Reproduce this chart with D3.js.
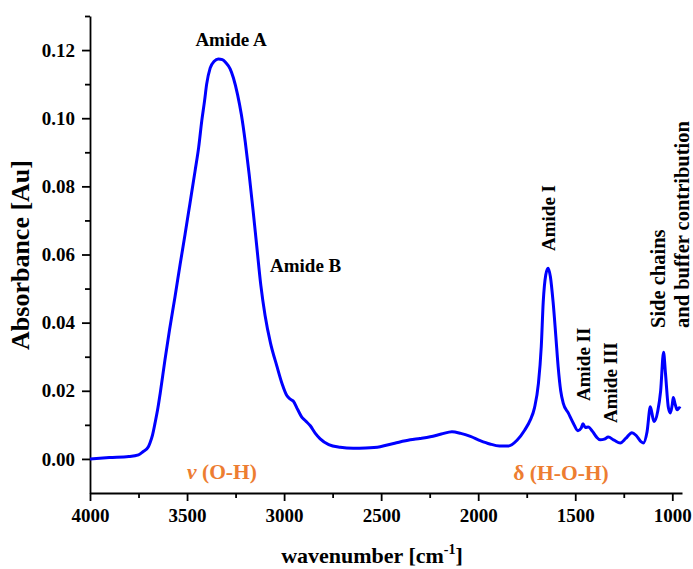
<!DOCTYPE html>
<html>
<head>
<meta charset="utf-8">
<script src="https://cdn.jsdelivr.net/npm/d3@7"></script>
<style>
  html, body { margin: 0; padding: 0; background: #fff; }
  svg { display: block; }
  text { font-family: "Liberation Serif", "Times New Roman", serif; font-weight: bold; }
</style>
</head>
<body>
<svg id="chart" width="693" height="569"></svg>
<script>
// FTIR absorbance spectrum (wavenumber in cm^-1, absorbance in Au)
const wavenumber = [
  4000, 3900, 3800, 3750, 3727, 3700, 3691, 3678, 3665, 3650, 3639, 3614, 3590, 3562,
  3536, 3510, 3485, 3459, 3440, 3424, 3410, 3399, 3381, 3360, 3339, 3318, 3300, 3278,
  3261, 3240, 3220, 3200, 3180, 3160, 3141, 3120, 3098, 3070, 3038, 3010, 2986, 2970, 2953,
  2930, 2909, 2890, 2866, 2840, 2814, 2770, 2711, 2644, 2580, 2505, 2430, 2350, 2300,
  2247, 2190, 2135, 2090, 2040, 1990, 1940, 1890, 1845, 1800, 1760, 1732, 1710, 1690,
  1675, 1665, 1652, 1640, 1628, 1614, 1600, 1588, 1575, 1562, 1536, 1510, 1486, 1470,
  1460, 1448, 1433, 1410, 1390, 1371, 1350, 1330, 1300, 1268, 1240, 1208, 1185, 1160,
  1149, 1130, 1113, 1100, 1093, 1075, 1060, 1045, 1035, 1020, 1010, 1000, 995, 985,
  975, 965, 958
];
const absorbance = [
  0.0000, 0.0004, 0.0007, 0.0012, 0.0021, 0.0035, 0.0047, 0.0070, 0.0105, 0.0150, 0.0190, 0.0290, 0.0380, 0.0476,
  0.0570, 0.0660, 0.0750, 0.0844, 0.0915, 0.0993, 0.1050, 0.1100, 0.1147, 0.1167, 0.1174, 0.1172, 0.1163, 0.1145,
  0.1118, 0.1070, 0.1010, 0.0930, 0.0835, 0.0730, 0.0625, 0.0510, 0.0421, 0.0340, 0.0274, 0.0220, 0.0186, 0.0176, 0.0170,
  0.0145, 0.0123, 0.0112, 0.0098, 0.0076, 0.0059, 0.0042, 0.0034, 0.0031, 0.0032, 0.0036, 0.0046, 0.0056, 0.0060,
  0.0065, 0.0073, 0.0080, 0.0075, 0.0066, 0.0054, 0.0044, 0.0038, 0.0038, 0.0055, 0.0085, 0.0114, 0.0150, 0.0220,
  0.0330, 0.0460, 0.0540, 0.0560, 0.0535, 0.0460, 0.0360, 0.0270, 0.0200, 0.0164, 0.0135, 0.0105, 0.0083, 0.0090,
  0.0103, 0.0092, 0.0094, 0.0080, 0.0064, 0.0056, 0.0058, 0.0064, 0.0055, 0.0047, 0.0060, 0.0077, 0.0068, 0.0050,
  0.0047, 0.0080, 0.0153, 0.0120, 0.0110, 0.0140, 0.0200, 0.0313, 0.0250, 0.0150, 0.0135, 0.0160, 0.0180, 0.0160,
  0.0144, 0.0150, 0.0148
];

// Axis ticks
const xMajorTicks = [4000, 3500, 3000, 2500, 2000, 1500, 1000];
const xMinorTicks = [3750, 3250, 2750, 2250, 1750, 1250];
const yMajorTicks = [0.00, 0.02, 0.04, 0.06, 0.08, 0.10, 0.12];
const yMinorTicks = [0.01, 0.03, 0.05, 0.07, 0.09, 0.11, 0.13];

// Band annotations
const bandLabels = ["Amide A", "Amide B"];
const rotatedLabels = ["Amide I", "Amide II", "Amide III", "Side chains", "and buffer contribution"];
const modeLabels = ["(O-H)", "δ (H-O-H)"];

const svg = d3.select("#chart");
const plotLeft = 90, plotRight = 682, plotTop = 16, plotBottom = 493;

const x = d3.scaleLinear().domain([4000, 950]).range([plotLeft, plotRight]);
const y = d3.scaleLinear().domain([-0.01, 0.13]).range([plotBottom, plotTop]);

const axisColor = "#000";

// X axis
const gx = svg.append("g").attr("transform", `translate(0,${plotBottom})`);
gx.call(d3.axisBottom(x).tickValues(xMinorTicks).tickSize(5).tickFormat(""));
gx.call(g => g.select(".domain").remove());
const gx2 = svg.append("g").attr("transform", `translate(0,${plotBottom})`);
gx2.call(d3.axisBottom(x).tickValues(xMajorTicks).tickSize(8).tickSizeOuter(0).tickPadding(8).tickFormat(d3.format("d")));
gx2.selectAll("text").attr("font-size", 19).attr("fill", "#000");

// Y axis
const gy = svg.append("g").attr("transform", `translate(${plotLeft},0)`);
gy.call(d3.axisLeft(y).tickValues(yMinorTicks).tickSize(5).tickFormat(""));
gy.call(g => g.select(".domain").remove());
const gy2 = svg.append("g").attr("transform", `translate(${plotLeft},0)`);
gy2.call(d3.axisLeft(y).tickValues(yMajorTicks).tickSize(8).tickSizeOuter(0).tickPadding(7).tickFormat(d3.format(".2f")));
gy2.selectAll("text").attr("font-size", 19).attr("fill", "#000");

svg.selectAll(".domain, .tick line").attr("stroke", axisColor).attr("stroke-width", 1.8);

// Spectrum line
const pts = wavenumber.map((w, i) => [w, absorbance[i]]);
svg.append("path")
  .datum(pts)
  .attr("fill", "none")
  .attr("stroke", "#0000ff")
  .attr("stroke-width", 3)
  .attr("stroke-linejoin", "round")
  .attr("d", d3.line().x(d => x(d[0])).y(d => y(d[1])).curve(d3.curveMonotoneX));

// Axis titles
svg.append("text")
  .attr("transform", "translate(29,255) rotate(-90)")
  .attr("text-anchor", "middle")
  .attr("font-size", 26)
  .text("Absorbance [Au]");

const xt = svg.append("text")
  .attr("x", 372).attr("y", 563)
  .attr("text-anchor", "middle")
  .attr("font-size", 22);
xt.append("tspan").text("wavenumber [cm");
xt.append("tspan").attr("font-size", 14).attr("dy", -9).text("-1");
xt.append("tspan").attr("dy", 9).text("]");

// Horizontal band labels
svg.append("text").attr("x", 231).attr("y", 46).attr("text-anchor", "middle")
  .attr("font-size", 19).text(bandLabels[0]);
svg.append("text").attr("x", 270).attr("y", 272).attr("text-anchor", "start")
  .attr("font-size", 19).text(bandLabels[1]);

// Rotated band labels (anchored at their lower end)
const rotPos = [[555, 251], [590, 401], [617, 423], [665, 328], [689, 328]];
const rotSize = [19, 19, 19, 20.5, 20.5];
rotatedLabels.forEach((t, i) => {
  svg.append("text")
    .attr("transform", `translate(${rotPos[i][0]},${rotPos[i][1]}) rotate(-90)`)
    .attr("text-anchor", "start")
    .attr("font-size", rotSize[i])
    .text(t);
});

// Vibrational mode labels
const orange = "#ed7d31";
const m1 = svg.append("text").attr("x", 222).attr("y", 479).attr("text-anchor", "middle")
  .attr("font-size", 21.5).attr("fill", orange);
m1.append("tspan").attr("font-style", "italic").text("ν");
m1.append("tspan").text(" " + modeLabels[0]);
svg.append("text").attr("x", 561).attr("y", 480).attr("text-anchor", "middle")
  .attr("font-size", 21.5).attr("fill", orange).text(modeLabels[1]);
</script>
</body>
</html>
